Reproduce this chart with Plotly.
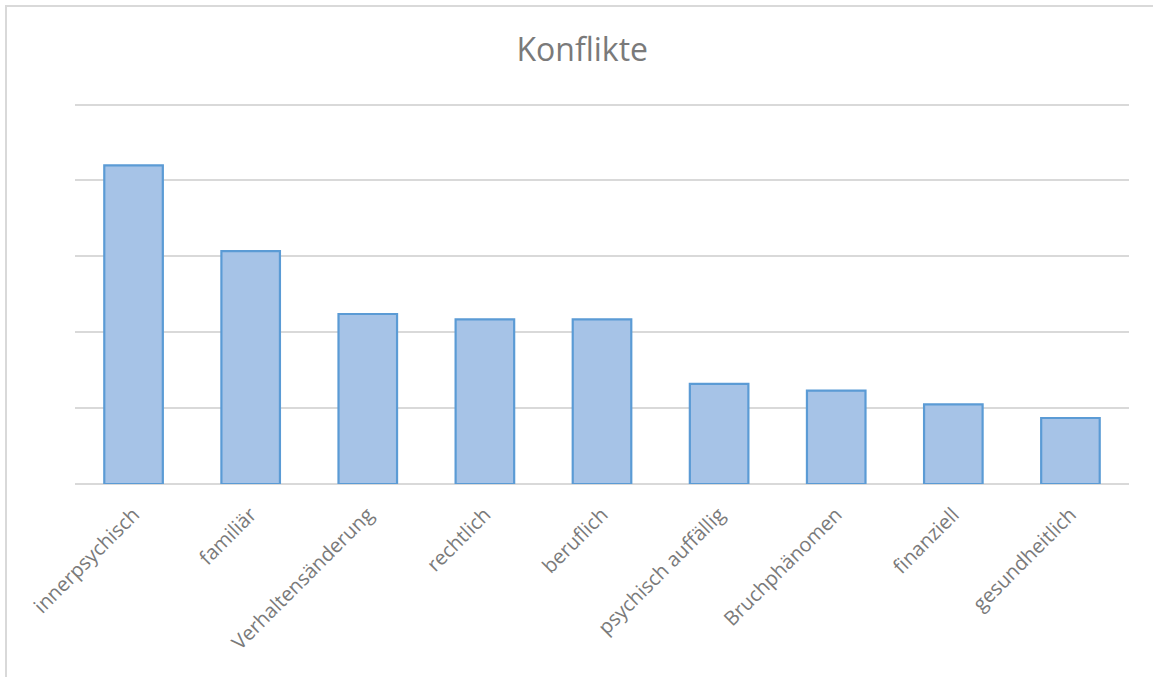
import plotly.graph_objects as go

categories = ["innerpsychisch", "familiär", "Verhaltensänderung", "rechtlich",
              "beruflich", "psychisch auffällig", "Bruchphänomen", "finanziell",
              "gesundheitlich"]
values = [42.0, 30.7, 22.4, 21.7, 21.7, 13.2, 12.3, 10.5, 8.7]
y_ticks = [0, 10, 20, 30, 40, 50]

W, H = 1153, 677
Y_MAX = 51
L, R, B = 75, 24, 193
PX_PER_UNIT = (484 - 105) / 50
T = round(484 - PX_PER_UNIT * Y_MAX)

fig = go.Figure(go.Bar(
    x=categories, y=values,
    marker=dict(color="#a6c3e7", line=dict(color="#5b9bd5", width=2.2)),
    hoverinfo="x+y",
))

plot_w = W - L - R
plot_h = H - T - B
fx = lambda px: (px - L) / plot_w
fy = lambda py: (H - B - py) / plot_h

fig.update_layout(
    width=W, height=H,
    margin=dict(l=L, r=R, t=T, b=B, pad=0),
    paper_bgcolor="white", plot_bgcolor="white",
    bargap=0.5,
    showlegend=False,
    title=dict(text="Konflikte", x=0.505, xanchor="center", y=1 - 50 / H, yanchor="middle",
               font=dict(family="Open Sans", size=32, color="#7a7a7a")),
    xaxis=dict(tickangle=-45, showgrid=False, showline=False, ticks="",
               tickfont=dict(family="Open Sans", size=20, color="#7a7a7a"),
               ticklabelstandoff=14),
    yaxis=dict(range=[0, Y_MAX], tickvals=y_ticks, showticklabels=False,
               showgrid=True, gridcolor="#d9d9d9", gridwidth=2,
               zeroline=True, zerolinecolor="#d9d9d9", zerolinewidth=2,
               showline=False),
    shapes=[dict(type="rect", xref="paper", yref="paper",
                 x0=fx(6), x1=fx(1200), y0=fy(720), y1=fy(6),
                 line=dict(color="#d9d9d9", width=2), fillcolor="rgba(0,0,0,0)",
                 layer="below")],
)

fig.write_html("out.html", config={"displayModeBar": False},
               post_script="document.body.style.margin='0';")
